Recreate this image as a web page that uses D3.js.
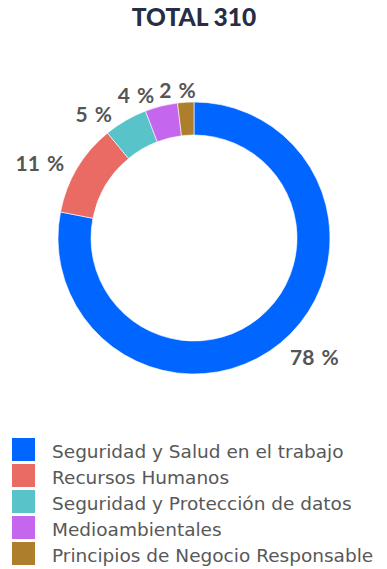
<!DOCTYPE html>
<html>
<head>
<meta charset="utf-8">
<script src="https://cdn.jsdelivr.net/npm/d3@7"></script>
<style>
  html, body { margin: 0; padding: 0; background: #fff; }
  svg { display: block; }
</style>
</head>
<body>
<svg id="chart" width="387" height="569"></svg>
<script>
// Complaint counts by category
const categories = [
  "Seguridad y Salud en el trabajo",
  "Recursos Humanos",
  "Seguridad y Protección de datos",
  "Medioambientales",
  "Principios de Negocio Responsable"
];
const counts = [242, 34, 16, 12, 6];
const colors = ["#0066ff", "#e96b63", "#58c3c8", "#c466ee", "#ad7f2c"];

const total = d3.sum(counts);
const data = categories.map((c, i) => ({ name: c, value: counts[i], color: colors[i] }));

const svg = d3.select("#chart");
const cx = 194, cy = 238;
const outerR = 136, innerR = 103, labelR = 151;

svg.append("text")
  .attr("x", cx).attr("y", 26)
  .attr("text-anchor", "middle")
  .attr("font-family", "Lato, sans-serif")
  .attr("font-weight", 900)
  .attr("font-size", 24.5)
  .attr("fill", "#262d45")
  .text(`TOTAL ${total}`);

const pie = d3.pie().value(d => d.value).sort(null);
const arc = d3.arc().innerRadius(innerR).outerRadius(outerR);
const arcs = pie(data);

const g = svg.append("g").attr("transform", `translate(${cx},${cy})`);
g.selectAll("path").data(arcs).join("path")
  .attr("d", arc)
  .attr("fill", d => d.data.color)
  .attr("stroke", "#fff")
  .attr("stroke-width", 0.6);

// Percentage labels just outside the ring, anchored away from the centre
const pct = d3.format(".0f");
arcs.forEach(d => {
  d.labelAngle = (d.startAngle + d.endAngle) / 2;
  d.side = Math.sin(d.labelAngle) >= 0 ? "start" : "end";
});

const labels = g.selectAll("text.lbl").data(arcs).join("text")
  .attr("class", "lbl")
  .attr("dy", "0.5em")
  .attr("text-anchor", d => d.side)
  .attr("font-family", "Lato, sans-serif")
  .attr("font-weight", 700)
  .attr("font-size", 21)
  .attr("word-spacing", 2)
  .attr("fill", "#555")
  .text(d => `${pct(d.value / total * 100)} %`);

function placeLabels() {
  labels
    .attr("x", d => Math.sin(d.labelAngle) * labelR)
    .attr("y", d => -Math.cos(d.labelAngle) * labelR);
}
placeLabels();

// Spread neighbouring labels apart along the circle where they collide
const gap = 5;
const nodes = labels.nodes();
for (let iter = 0; iter < 80; iter++) {
  let moved = false;
  for (let i = 0; i < nodes.length - 1; i++) {
    const a = nodes[i].getBBox(), b = nodes[i + 1].getBBox();
    const overlapX = Math.min(a.x + a.width, b.x + b.width) - Math.max(a.x, b.x) + gap;
    const overlapY = Math.min(a.y + a.height, b.y + b.height) - Math.max(a.y, b.y);
    if (overlapX > 0 && overlapY > 0) {
      const step = 0.004;
      d3.select(nodes[i]).datum().labelAngle -= step;
      d3.select(nodes[i + 1]).datum().labelAngle += step;
      moved = true;
    }
  }
  placeLabels();
  if (!moved) break;
}

const legend = svg.append("g").attr("transform", "translate(12,438)");
const rowH = 26;
const rows = legend.selectAll("g").data(data).join("g")
  .attr("transform", (d, i) => `translate(0,${i * rowH})`);
rows.append("rect")
  .attr("width", 23).attr("height", 23)
  .attr("fill", d => d.color);
rows.append("text")
  .attr("x", 40).attr("y", 12)
  .attr("dy", "0.42em")
  .attr("font-family", "'DejaVu Sans', sans-serif")
  .attr("font-size", 18.5)
  .attr("fill", "#585858")
  .text(d => d.name);
</script>
</body>
</html>
